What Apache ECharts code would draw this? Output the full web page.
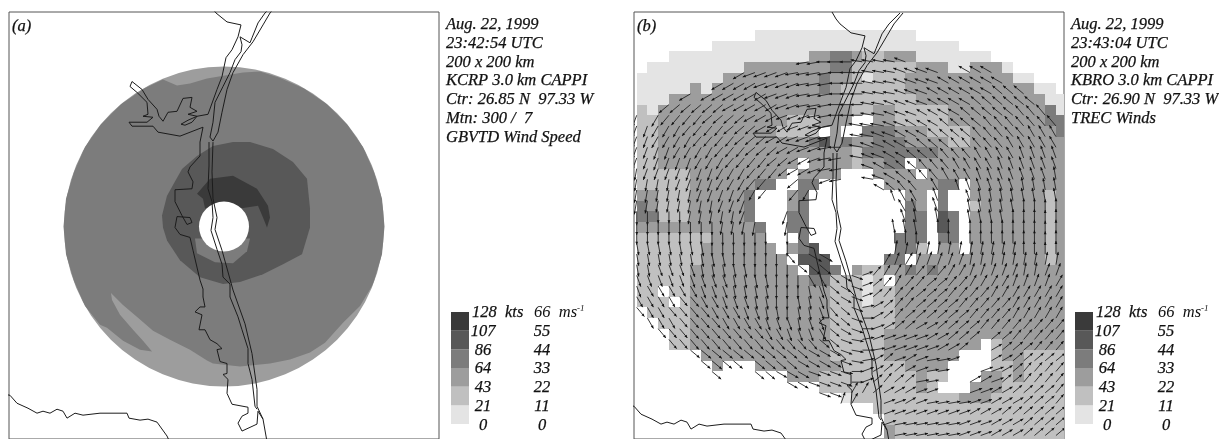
<!DOCTYPE html>
<html><head><meta charset="utf-8">
<style>html,body{margin:0;padding:0;background:#fff;overflow:hidden}#c{width:1219px;height:439px}</style>
<script src="https://cdn.jsdelivr.net/npm/echarts@6/dist/echarts.min.js"></script>
</head><body><div id="c"></div>
<script>
// ---------- labels ----------
const infoA = ['Aug. 22, 1999','23:42:54 UTC','200 x 200 km','KCRP 3.0 km CAPPI','Ctr: 26.85 N  97.33 W','Mtn: 300 /  7','GBVTD Wind Speed'];
const infoB = ['Aug. 22, 1999','23:43:04 UTC','200 x 200 km','KBRO 3.0 km CAPPI','Ctr: 26.90 N  97.33 W','TREC Winds'];
const ktsTicks = ['128','107','86','64','43','21','0'];
const msTicks = ['66','55','44','33','22','11','0'];
// wind speed bands, weakest (1) to strongest (6)
const bandColors = ['#e4e4e4','#c0c0c0','#9d9d9d','#7c7c7c','#585858','#3a3a3a'];
const legendBands = [1,2,3,4,5,6];

// ---------- panel (a): GBVTD wind speed, contour outlines on the scan's own scale ----------
const discA = [224,228,160];
const holeA = [224,228,25];
const band4A = [[260,72],[279,78],[304,89],[327,105],[347,125],[363,148],[374,173],[382,200],[384.5,228],[382,256],[374,283],[372,288],[360,308],[343,325],[325,345],[310,355],[290,362],[270,366],[240,369],[213,366],[207,363],[190,352],[170,342],[153,333],[138,320],[123,307],[111,295],[112,302],[120,317],[133,332],[143,343],[152,354],[140,352],[123,343],[107,330],[100,327],[85,308],[74,283],[66,256],[63.5,228],[66,200],[74,173],[85,148],[101,125],[121,105],[144,89],[163,80],[177,86],[190,84],[207,79],[225,76],[243,73]];
const band5A = [[213,147],[233,143],[250,143],[273,150],[293,163],[307,180],[310,210],[310,229],[302,256],[283,266],[263,276],[240,284],[223,286],[200,279],[180,262],[167,242],[163,229],[162,217],[167,197],[182,170],[197,157]];
const band4InnerA = [[195,240],[197,255],[215,264],[233,265],[247,253],[250,240]];
const band6A = [[197,195],[210,180],[233,177],[257,190],[268,207],[270,219],[267,229],[263,219],[258,207],[240,210],[205,210],[203,200]];

// ---------- coastline, same scan scale ----------
const coastMain = [[208,1],[212,8],[216,13],[227,22],[241,25],[238,37],[232,50],[226,58],[222,77],[217,90],[208,115],[197,117],[188,121],[181,125],[185,126],[192,123],[197,117],[188,115],[197,112],[190,108],[192,98],[183,99],[177,112],[168,113],[163,122],[159,117],[157,110],[148,100],[142,90],[132,82],[130,87],[137,93],[147,103],[148,115],[143,117],[153,118],[147,123],[129,123],[132,127],[153,127],[158,133],[180,137],[203,128],[200,143],[200,157],[190,168],[188,173],[193,183],[192,190],[175,191],[175,203],[182,217],[187,226],[192,224],[190,219],[177,218],[175,229],[180,236],[190,239],[193,252],[200,282],[203,291],[203,299],[205,309],[200,309],[195,314],[202,317],[199,332],[205,332],[210,342],[217,346],[222,351],[217,352],[220,364],[227,366],[227,376],[223,377],[228,382],[227,396],[232,407],[248,410],[248,416],[242,419],[238,426],[242,434],[257,427],[258,414],[263,422],[266,439],[268,450]];
const barrierEast = [[279,2],[270,13],[263,25],[253,42],[243,55],[233,73],[227,90],[222,113],[218,133],[213,142]];
const barrierWest = [[276,2],[265,13],[258,23],[252,38],[250,43],[240,37],[242,45],[241,52],[235,60],[230,73],[223,87],[215,103],[213,123],[210,138],[213,142]];
const islandWest = [[209,143],[209,167],[208,190],[212,203],[213,219],[211,232],[217,251],[222,266],[223,279],[230,286],[230,299],[238,319],[242,332],[248,351],[248,366],[252,382],[255,409],[257,412]];
const islandEast = [[213,143],[212,173],[213,200],[217,219],[215,231],[222,252],[233,292],[245,326],[252,356],[257,392],[257,409],[263,422]];
const riverCoast = [[0,396],[10,398],[17,406],[28,411],[37,416],[43,414],[50,416],[57,412],[63,414],[67,421],[75,416],[83,418],[100,416],[120,416],[127,416],[129,421],[140,423],[148,422],[157,425],[167,439],[172,450]];

// ---------- panel (b): speed bands, one row per grid line, "band x count" ----------
const cellRows = [
'','',
'0x11 1x15',
'0x7 1x23',
'0x3 1x13 3x2 4x2 3x1 2x2 3x3 1x7',
'0x1 1x9 3x8 4x2 2x6 3x3 1x2 3x3 1x1',
'1x8 3x9 4x1 3x2 2x1 1x1 2x3 3x10 1x2',
'1x5 3x1 1x1 3x10 4x1 3x1 2x6 3x12 1x2',
'1x3 3x16 2x7 3x12 1x2',
'2x1 1x1 3x18 2x2 3x2 2x5 3x9 4x1 1x1',
'2x2 3x12 2x3 3x3 0x2 3x2 2x5 3x9 4x2',
'2x2 3x11 2x4 0x1 3x1 0x2 4x3 3x3 2x4 3x8 4x1',
'2x2 3x14 4x1 5x1 3x1 4x1 3x2 4x3 3x4 2x2 3x9',
'2x2 3x18 2x1 4x7 3x12',
'2x2 3x13 0x1 3x4 2x1 3x2 4x2 0x1 3x14',
'2x5 3x9 0x1 3x4 0x3 3x4 0x1 3x13',
'2x5 3x6 4x2 0x2 4x2 0x6 3x5 4x2 0x1 3x9',
'3x2 2x3 3x5 4x1 0x3 3x1 4x1 0x9 3x2 0x1 4x1 0x2 3x7 2x1 3x1',
'4x1 3x1 2x3 3x5 4x1 0x3 3x1 4x1 0x9 4x1 3x1 0x1 4x1 0x2 2x1 3x6 2x1 3x1',
'4x2 2x3 3x5 4x1 0x3 4x2 0x9 4x2 0x1 5x1 4x1 0x1 3x7 2x1 3x1',
'3x11 4x1 0x2 4x2 0x9 4x2 0x1 5x1 4x1 0x1 3x7 2x1 3x1',
'2x7 3x5 0x3 4x1 0x8 4x3 0x1 4x2 0x1 3x7 2x1 3x1',
'2x6 3x7 0x1 3x1 4x1 5x1 0x7 4x2 2x1 0x1 3x2 0x1 3x7 2x1 3x1',
'2x6 3x8 0x1 5x3 0x5 4x2 0x1 3x12 2x1 3x1',
'2x5 3x10 0x1 5x2 4x1 0x1 3x1 2x2 3x2 4x1 3x1 4x1 3x12',
'2x5 3x11 4x2 2x3 1x1 2x1 0x1 3x16',
'2x2 0x1 2x2 3x13 2x3 1x1 2x2 3x16',
'2x3 0x1 2x1 3x13 2x3 1x1 2x2 3x16',
'0x1 2x4 3x13 2x6 3x16',
'0x2 2x3 3x13 2x6 3x16',
'0x3 2x2 3x13 2x5 3x17',
'0x3 2x2 3x13 2x5 3x9 0x1 2x1 3x6',
'0x6 3x12 2x5 3x7 0x3 2x1 3x2 2x4',
'0x7 3x1 0x3 3x8 2x6 3x4 0x4 2x2 3x1 2x4',
'0x14 3x3 2x9 3x1 2x2 0x3 3x2 2x1 3x1 2x4',
'0x17 2x9 3x1 2x1 0x3 3x3 2x6',
'0x19 1x1 2x10 3x3 2x7',
'0x22 2x18',
'0x23 2x17',
'0x23 3x1 2x16',
'0x23 3x1 2x16'
];

// TREC wind headings: each char is a compass heading in tens of degrees, base 36; '.' = no vector.
// entries are [grid row, first column, headings]
const windRows = [
[5,16,'qqrrrsssst'],
[6,10,'oppppqqqqrrrssstttt..uuu'],
[7,8,'ooooppppqqqrrrsssttttuuuuuu'],
[8,5,'o.oooooopppqqqrrrsssttt'+'uuuuuuvvv'],
[9,3,'nnnnnnooooo'+'ppqqqrrrsstttt'+'uuuuvvvvvv'],
[10,0,'k.lmmmmnnnnoooppp'+'qqrrrsstttuuuuvvvvvwww'],
[11,0,'kklllmmmmnnnoooppqq..ssstt'+'uuuvvvvwwwwwww'],
[12,0,'kkllllmmmmnnnoopppq..sstt'+'uuuvvvvwwwwwxxx'],
[13,0,'kkkkllllmmmnnnooppqr.s'+'ttuuuvvvwwwwwxxxxx'],
[14,0,'kkkkkklllmmmmnnoopqq.stt'+'uuvvwwwwxxxxyyyy'],
[15,0,'jkkkkkkklllmmmnoopqq..'+'tuuvvwwwxxxxyyyyyy'],
[16,0,'jjjjkkkklllmm..n..pq..'+'stuvwwwxxxyyyyyyyz'],
[17,0,'jjjjjjkkkkllm..ml......'+'uvww.x.yyyyyyzzzz'],
[18,0,'jjjjjjjjkkk.............'+'yxx.y..yzzzzzzzz'],
[19,0,'iiiiijjjjjk...k..........'+'xy.y..zzzzz0000'],
[20,0,'iiiiiiiijjjj..j..........'+'yz.z..zzzz00000'],
[21,0,'iiiiiiiiiiiii.i.........'+'zzz.00.000000000'],
[22,0,'hhhhhhhiiiiii.i.........'+'000..0.000000000'],
[23,0,'hhhhhhhhhiiiiie.cc......'+'1111111111110000'],
[24,0,'hhgggghhhhhiiiiddd.....'+'32322222111111111'],
[25,0,'ggggggggghhhhiiiff'+'dcb743334443322222'+'1122'],
[26,0,'gfffffggghhhhiiihg'+'dcb75434455'+'443333222'+'23'],
[27,0,'ffffeeffggghhiihhg'+'dcb75444555'+'444433333'+'33'],
[28,0,'effeeeefffgghhihhg'+'edb8654455554444433333'],
[29,1,'fffeeeeffffggghgg'+'ddb965'+'45555554444'+'33333'],
[30,2,'eeeeeeeeeeffgggf'+'dcb97655665555'+'44444444'],
[31,3,'eeeeeeeeeeeeeedd'+'ba87777766555.5544444'],
[32,5,'ddddddddddd'+'cccba9877777665'+'..6555444'],
[33,6,'dddd.dddd'+'ccccba8657'+'6788'+'7...6655555'],
[34,7,'d...ddccc'+'bbba97655'+'6788...7765'+'4444'],
[35,14,'ccbbbb9754558'+'8...66755'+'4444'],
[36,17,'bb.3356667'+'7...77665'+'5554'],
[37,19,'23..7767'+'8888776665554'],
[38,23,'77777777'+'666555555'],
[39,23,'7888888777666'+'5555'],
[40,24,'888888777666'+'5555']
];

// ---------- build data from the tables ----------
const cells = [];
cellRows.forEach((row,k)=>{
  let c=0;
  row.split(' ').filter(Boolean).forEach(tok=>{
    const [band,n]=tok.split('x').map(Number);
    for(let i=0;i<n;i++,c++) if(band>0) cells.push([c,k,band]);
  });
});
const bandAt = {};
cells.forEach(d=>{bandAt[d[0]+','+d[1]]=d[2];});
const winds = [];
windRows.forEach(([k,c0,s])=>{
  [...s].forEach((ch,i)=>{
    if(ch==='.')return;
    const c=c0+i;
    if(c>39)return;
    const band=bandAt[c+','+k]||2;
    winds.push([c,k,parseInt(ch,36)*10,band]);
  });
});
const regionsA = [
  {band:4,pts:band4A},{band:5,pts:band5A},{band:4,pts:band4InnerA},{band:6,pts:band6A}
];
const coastLines = [coastMain,barrierEast,barrierWest,islandWest,islandEast,riverCoast];

// ---------- draw helpers ----------
function renderDisc(fill){
  return function(p,api){
    const c=api.coord([api.value(0),api.value(1)]);
    const r=api.size([api.value(2),0])[0];
    return {type:'circle',shape:{cx:c[0],cy:c[1],r:r},style:{fill:fill}};
  };
}
function renderRegion(p,api){
  const r=regionsA[api.value(0)];
  return {type:'polygon',shape:{points:r.pts.map(q=>api.coord(q))},style:{fill:bandColors[r.band-1]}};
}
function renderCell(p,api){
  const a=api.coord([api.value(0),api.value(1)]);
  const b=api.coord([api.value(0)+1,api.value(1)+1]);
  const x0=Math.round(a[0]),y0=Math.round(a[1]),x1=Math.round(b[0]),y1=Math.round(b[1]);
  return {type:'rect',shape:{x:x0,y:y0,width:x1-x0,height:y1-y0},style:{fill:bandColors[api.value(2)-1]}};
}
function renderLegend(p,api){
  const a=api.coord([0,api.value(0)-1]);
  const b=api.coord([1,api.value(0)]);
  return {type:'rect',shape:{x:a[0],y:b[1],width:b[0]-a[0],height:a[1]-b[1]},style:{fill:bandColors[api.value(0)-1]}};
}
const arrowPx = [11,11,12,13,14,15,15];
function renderArrow(p,api){
  const t=api.coord([api.value(0),api.value(1)]);
  const th=api.value(2)*Math.PI/180, L=arrowPx[api.value(3)];
  const ux=Math.sin(th),uy=-Math.cos(th);
  const tip=[t[0]+ux*L,t[1]+uy*L];
  const bx=tip[0]-ux*3,by=tip[1]-uy*3;
  return {type:'group',children:[
    {type:'line',shape:{x1:t[0],y1:t[1],x2:tip[0],y2:tip[1]},style:{stroke:'#222',lineWidth:0.9}},
    {type:'polygon',shape:{points:[tip,[bx-uy*1.4,by+ux*1.4],[bx+uy*1.4,by-ux*1.4]]},style:{fill:'#111'}}
  ]};
}

// ---------- option ----------
const hidden = (idx,min,max,inv)=>({gridIndex:idx,type:'value',min:min,max:max,inverse:!!inv,show:false,splitLine:{show:false}});
const series = [];
const custom = (x,y,data,fn,z)=>series.push({type:'custom',xAxisIndex:x,yAxisIndex:y,data:data,renderItem:fn,clip:true,silent:true,animation:false,z:z});
custom(0,0,[discA],renderDisc(bandColors[2]),2);
custom(0,0,regionsA.map((r,i)=>[i]),renderRegion,3);
custom(0,0,[holeA],renderDisc('#fff'),4);
custom(1,1,cells,renderCell,2);
custom(1,1,winds,renderArrow,5);
custom(3,3,legendBands.map(b=>[b]),renderLegend,2);
custom(4,4,legendBands.map(b=>[b]),renderLegend,2);
coastLines.forEach(l=>{
  series.push({type:'line',xAxisIndex:0,yAxisIndex:0,data:l,showSymbol:false,symbol:'none',silent:true,animation:false,clip:true,z:6,lineStyle:{color:'#1c1c1c',width:1}});
  series.push({type:'line',xAxisIndex:2,yAxisIndex:2,data:l,showSymbol:false,symbol:'none',silent:true,animation:false,clip:true,z:6,lineStyle:{color:'#1c1c1c',width:1}});
});

const font = 'italic 16.5px "Liberation Serif"';
const tx = (x,y,text,align)=>({type:'text',x:x,y:y,z:20,silent:true,
  style:{text:text,font:font,fill:'#111',stroke:'#111',lineWidth:0.25,textAlign:align||'left',textVerticalAlign:'middle'}});
const gfx = [];
gfx.push(tx(12,27,'(a)'));
gfx.push(tx(637,27,'(b)'));
infoA.forEach((t,i)=>gfx.push(tx(446,25+18.7*i,t)));
infoB.forEach((t,i)=>gfx.push(tx(1071,25+18.7*i,t)));
[[472,534,483,542],[1096,1158,1107,1166]].forEach(([kx,mx,kc,mc])=>{
  ktsTicks.forEach((t,i)=>{
    const y=313+18.7*i;
    if(i===0){
      gfx.push(tx(kx,y,t+'  kts'));
      gfx.push({type:'text',x:mx,y:y,z:20,silent:true,style:{text:msTicks[0]+'  ms{s|-1}',font:font,fill:'#111',textVerticalAlign:'middle',rich:{s:{font:'italic 9px "Liberation Serif"',fill:'#111',verticalAlign:'top',padding:[0,0,6,0]}}}});
    } else {
      gfx.push(tx(kc,y,t,'center'));
      gfx.push(tx(mc,y,msTicks[i],'center'));
    }
  });
});

const chart = echarts.init(document.getElementById('c'),null,{renderer:'canvas',width:1219,height:439});
chart.setOption({
  animation:false,
  backgroundColor:'#fff',
  grid:[
    {left:9,top:12,width:430,height:430,show:true,borderColor:'#555',borderWidth:1,backgroundColor:'transparent'},
    {left:634,top:12,width:430,height:430,show:true,borderColor:'#555',borderWidth:1,backgroundColor:'transparent'},
    {left:634,top:12,width:430,height:430},
    {left:451,top:312,width:18,height:112},
    {left:1075,top:312,width:18,height:112}
  ],
  xAxis:[hidden(0,9,439),hidden(1,-0.251,39.749),hidden(2,10,440),hidden(3,0,1),hidden(4,0,1)],
  yAxis:[hidden(0,12,442,true),hidden(1,0.326,40.326,true),hidden(2,1,431,true),hidden(3,0,6),hidden(4,0,6)],
  series:series,
  graphic:{elements:gfx}
});
</script></body></html>
